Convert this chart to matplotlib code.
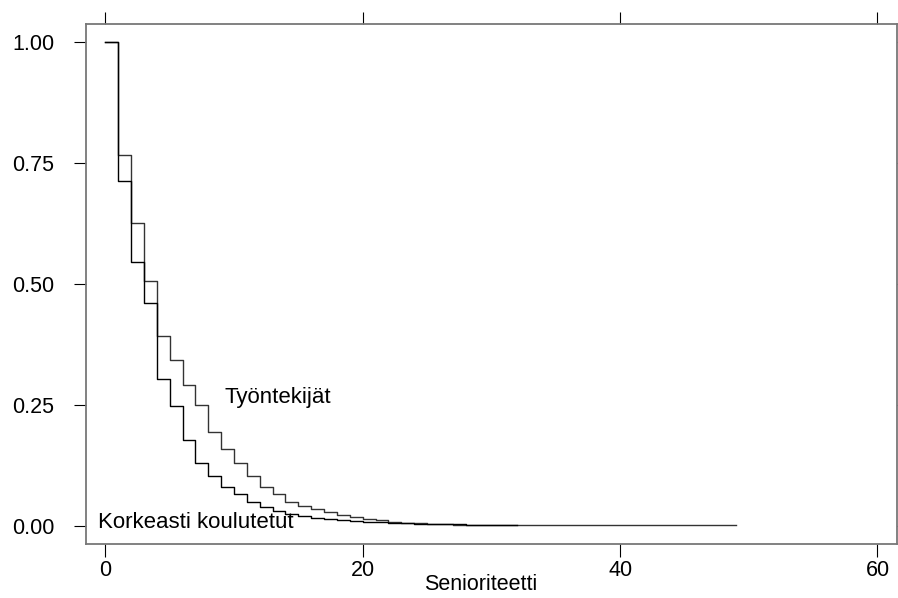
import numpy as np
import matplotlib.pyplot as plt

plt.rcParams['font.family'] = ['Liberation Sans', 'DejaVu Sans']

# Kaplan-Meier type survival estimates
t_tyo = [0, 1, 2, 3, 4, 5, 6, 7, 8, 9, 10, 11, 12, 13, 14, 15, 16, 17, 18,
         19, 20, 21, 22, 23, 24, 25, 26, 27, 28, 32, 49]
s_tyo = [1.0, 0.768, 0.626, 0.508, 0.394, 0.344, 0.293, 0.250, 0.195, 0.159,
         0.131, 0.104, 0.082, 0.066, 0.051, 0.043, 0.035, 0.029, 0.023, 0.019,
         0.016, 0.013, 0.010, 0.008, 0.006, 0.005, 0.004, 0.0035, 0.003, 0.002,
         0.002]

t_kork = [0, 1, 2, 3, 4, 5, 6, 7, 8, 9, 10, 11, 12, 13, 14, 15, 16, 17, 18,
          19, 20, 22, 24, 26, 28, 32]
s_kork = [1.0, 0.713, 0.546, 0.461, 0.305, 0.248, 0.179, 0.131, 0.104, 0.082,
          0.066, 0.050, 0.040, 0.032, 0.025, 0.021, 0.018, 0.015, 0.013, 0.011,
          0.009, 0.0076, 0.005, 0.004, 0.003, 0.003]

labels = ['Työntekijät', 'Korkeasti koulutetut']
xticks = [0, 20, 40, 60]
yticks = [0.0, 0.25, 0.5, 0.75, 1.0]

fig = plt.figure(figsize=(8.98, 5.98), dpi=100)
ax = fig.add_axes([0.0958, 0.0898, 0.9028, 0.8701])

ax.step(t_tyo, s_tyo, where='post', color='#333333', lw=1.0)
ax.step(t_kork, s_kork, where='post', color='black', lw=1.0)

ax.text(9.26, 0.255, labels[0], fontsize=16, va='baseline', ha='left')
ax.text(-0.6, -0.004, labels[1], fontsize=16, va='baseline', ha='left')

ax.set_xlim(-1.5, 61.5)
ax.set_ylim(-0.037, 1.038)
ax.set_xticks(xticks)
ax.set_yticks(yticks)
ax.set_xticklabels([str(v) for v in xticks])
ax.set_yticklabels(['%.2f' % v for v in yticks])

for sp in ax.spines.values():
    sp.set_color('#777777')
    sp.set_linewidth(1.3)

ax.tick_params(axis='both', direction='out', length=9, width=0.8,
               color='black', labelsize=15.5)
ax.tick_params(axis='x', top=True, pad=2)
ax.tick_params(axis='y', right=True, pad=14)

ax.set_xlabel('Senioriteetti', fontsize=15.5)
ax.xaxis.set_label_coords(0.487, -0.058)

fig.savefig('out.png', dpi=100)
